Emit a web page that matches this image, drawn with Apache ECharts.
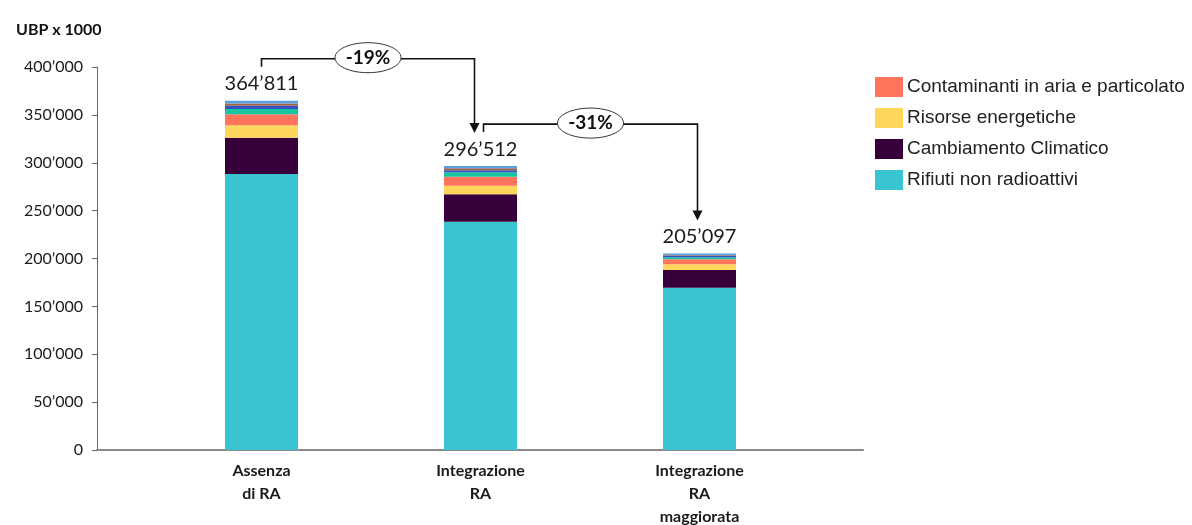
<!DOCTYPE html>
<html>
<head>
<meta charset="utf-8">
<script src="https://cdn.jsdelivr.net/npm/echarts@6/dist/echarts.min.js"></script>
<style>
  html, body { margin: 0; padding: 0; background: #fff; }
  #chart { width: 1192px; height: 525px; }
</style>
</head>
<body>
<div id="chart"></div>
<script>
// Scenario labels (x axis)
const categories = ['Assenza\ndi RA', 'Integrazione\nRA', 'Integrazione\nRA\nmaggiorata'];

// Impact contributions, UBP x 1000, stacked bottom to top
const rifiuti      = [288300, 238400, 169500];
const clima        = [37900, 28600, 18500];
const risorse      = [12900, 9000, 5900];
const contaminanti = [11500, 9400, 5200];
const ecotox       = [5500, 4600, 2100];
const acqua        = [3300, 2200, 1300];
const suolo        = [2400, 2000, 1000];
const altri        = [3011, 2312, 1597];

// Y axis range
const yMin = 0, yMax = 400000, yStep = 50000;

const stackParts = [rifiuti, clima, risorse, contaminanti, ecotox, acqua, suolo, altri];
const totals = categories.map((_, i) => stackParts.reduce((s, arr) => s + arr[i], 0));

const fmt = n => String(Math.round(n)).replace(/\B(?=(\d{3})+(?!\d))/g, '\u2019');

const chart = echarts.init(document.getElementById('chart'), null, { renderer: 'canvas' });

function barSeries(name, values, color, extra) {
  return Object.assign({
    name: name,
    type: 'bar',
    stack: 'tot',
    xAxisIndex: 0,
    yAxisIndex: 0,
    barWidth: 73,
    itemStyle: { color: color },
    emphasis: { disabled: true },
    data: values
  }, extra || {});
}

const labelFont = 'Lato, "Open Sans", sans-serif';
const plotTop = 67, plotBottom = 75;

const option = {
  animation: false,
  backgroundColor: '#ffffff',
  grid: [
    // bars
    { left: 152, right: 383, top: plotTop, bottom: plotBottom, containLabel: false, outerBoundsMode: 'none' },
    // frame: visible value axis and baseline
    { left: 97, right: 329, top: plotTop, bottom: plotBottom, containLabel: false, outerBoundsMode: 'none' }
  ],
  title: {
    text: 'UBP x 1000',
    left: 11, top: 17,
    textStyle: { fontFamily: labelFont, fontWeight: 'bold', fontSize: 16, color: '#111' }
  },
  legend: {
    data: ['Contaminanti in aria e particolato', 'Risorse energetiche', 'Cambiamento Climatico', 'Rifiuti non radioattivi'],
    orient: 'vertical',
    left: 870, top: 72,
    itemWidth: 28, itemHeight: 20, itemGap: 11,
    icon: 'rect',
    selectedMode: false,
    textStyle: { fontFamily: '"Liberation Sans", Arial, sans-serif', fontSize: 19, color: '#222', padding: [0, 0, 0, -1] }
  },
  xAxis: [
    {
      gridIndex: 0,
      type: 'category',
      data: categories,
      axisLine: { show: false },
      axisTick: { show: false },
      splitLine: { show: false },
      axisLabel: {
        fontFamily: labelFont, fontWeight: 'bold', fontSize: 16, color: '#1a1a1a',
        lineHeight: 23, margin: 9, interval: 0
      }
    },
    {
      gridIndex: 1,
      type: 'value',
      min: 0, max: 1,
      splitLine: { show: false },
      axisTick: { show: false },
      axisLabel: { show: false },
      axisLine: { show: true, onZero: false, lineStyle: { color: '#8a8a8a', width: 2 } }
    }
  ],
  yAxis: [
    {
      gridIndex: 0,
      type: 'value',
      min: yMin, max: yMax, interval: yStep,
      show: false
    },
    {
      gridIndex: 1,
      type: 'value',
      min: yMin, max: yMax, interval: yStep,
      splitLine: { show: false },
      axisLine: { show: true, onZero: false, lineStyle: { color: '#666', width: 1 } },
      axisTick: { show: true, inside: false, length: 5, lineStyle: { color: '#666' } },
      axisLabel: {
        formatter: v => fmt(v),
        fontFamily: labelFont, fontSize: 16, color: '#1a1a1a', margin: 14
      }
    }
  ],
  series: [
    barSeries('Rifiuti non radioattivi', rifiuti, '#38c4d0'),
    barSeries('Cambiamento Climatico', clima, '#37003a'),
    barSeries('Risorse energetiche', risorse, '#ffd65c'),
    barSeries('Contaminanti in aria e particolato', contaminanti, '#ff745a'),
    barSeries('Metalli pesanti', ecotox, '#14c59f'),
    barSeries('Risorse idriche', acqua, '#3550c2'),
    barSeries('Uso del suolo', suolo, '#a0644a'),
    barSeries('Altri impatti', altri, '#5c9fe0', {
      label: {
        show: true,
        position: 'top',
        distance: 7,
        formatter: p => fmt(totals[p.dataIndex]),
        fontFamily: labelFont, fontSize: 20, color: '#1a1a1a'
      }
    })
  ]
};

chart.setOption(option);

// Elbow arrows with percentage change between consecutive scenarios
function elbow(fromIdx, toIdx, dxStart, dxEnd) {
  const pFrom = chart.convertToPixel({ gridIndex: 0 }, [fromIdx, totals[fromIdx]]);
  const pTo = chart.convertToPixel({ gridIndex: 0 }, [toIdx, totals[toIdx]]);
  const x0 = pFrom[0] + dxStart;
  const yStart = pFrom[1] - 34;
  const yLine = pFrom[1] - 42;
  const x1 = pTo[0] + dxEnd;
  const yTip = pTo[1] - 33;
  const pct = Math.round((totals[toIdx] / totals[fromIdx] - 1) * 100);
  const midX = (x0 + x1) / 2;
  return [
    {
      type: 'polyline', z: 10,
      shape: { points: [[x0, yStart], [x0, yLine], [x1, yLine], [x1, yTip - 9]] },
      style: { stroke: '#111', lineWidth: 1.6, fill: null }
    },
    {
      type: 'polygon', z: 10,
      shape: { points: [[x1 - 5, yTip - 10], [x1 + 5, yTip - 10], [x1, yTip]] },
      style: { fill: '#111' }
    },
    {
      type: 'ellipse', z: 11,
      shape: { cx: midX, cy: yLine - 1, rx: 33, ry: 15 },
      style: { fill: '#fff', stroke: '#333', lineWidth: 1 }
    },
    {
      type: 'text', z: 12,
      x: midX, y: yLine - 1,
      style: {
        text: (pct > 0 ? '+' : '') + pct + '%',
        fontFamily: labelFont, fontWeight: 'bold', fontSize: 19, fill: '#111',
        align: 'center', verticalAlign: 'middle'
      }
    }
  ];
}

chart.setOption({
  graphic: { elements: [].concat(elbow(0, 1, 0, -6), elbow(1, 2, 3, -2)) }
});
</script>
</body>
</html>
